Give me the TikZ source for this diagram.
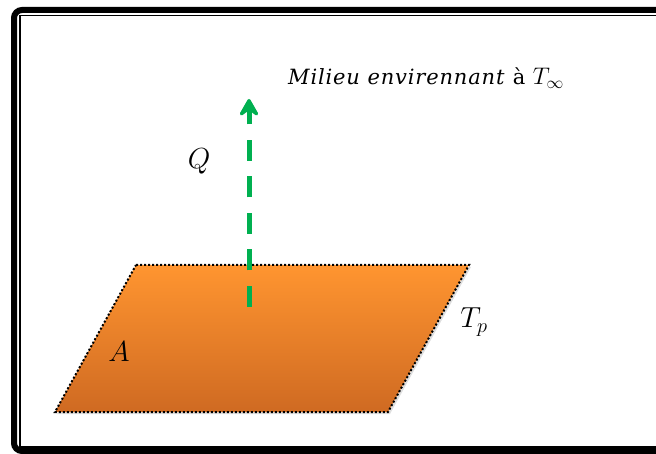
\documentclass[tikz,border=0pt]{standalone}
\usepackage{amsmath,amssymb}
\usepackage{fix-cm}
\usepackage{fontspec}
\newfontfamily\titrefont[LetterSpace=4]{DejaVu Serif}
\usepackage{tikz}
\usetikzlibrary{arrows.meta,shadows}
\definecolor{orangehaut}{RGB}{255,149,48}
\definecolor{orangebas}{RGB}{207,106,34}
\definecolor{vertflux}{RGB}{0,176,80}

\begin{document}
\begin{tikzpicture}[
  x=1pt, y=-1pt,
  >={Stealth[length=22pt,width=25pt,inset=9pt,round]},
  lbl/.style={font=\fontsize{29}{33}\selectfont, inner sep=0pt},
  titre/.style={font=\titrefont\fontsize{21}{25}\selectfont, inner sep=0pt, anchor=base west},
  plaque/.style={draw=black, line width=2pt, dash pattern=on 2pt off 2pt,
                 top color=orangehaut, bottom color=orangebas,
                 drop shadow={opacity=0.25, shadow xshift=2pt, shadow yshift=-2pt}},
  flux/.style={draw=vertflux, line width=5pt, dash pattern=on 21pt off 15.5pt, ->}
]
\useasboundingbox (0,0) rectangle (656,454);

% cadre
\draw[line width=6pt, rounded corners=8pt] (14,10) rectangle (690,451);
\draw[line width=1.2pt] (20,15.5) rectangle (680,447);

% plaque
\coordinate (p1) at (136,265);
\coordinate (p2) at (469,265);
\coordinate (p3) at (388,412);
\coordinate (p4) at (55,412);
\path[plaque] (p1) -- (p2) -- (p3) -- (p4) -- cycle;

% flux de chaleur
\coordinate (flux0) at (249,307);
\coordinate (flux1) at (249,99);
\draw[flux] (flux0) -- (flux1);

% textes
\node[titre] (milieu) at (288,85) {\textit{Milieu envirennant} à {\fontsize{24}{28}\selectfont$T_\infty$}};
\node[lbl] (Q) at (199,161) {$Q$};
\node[lbl] (A) at (119,352) {$A$};
\node[lbl] (Tp) at (474,322) {$T_p$};
\end{tikzpicture}
\end{document}
